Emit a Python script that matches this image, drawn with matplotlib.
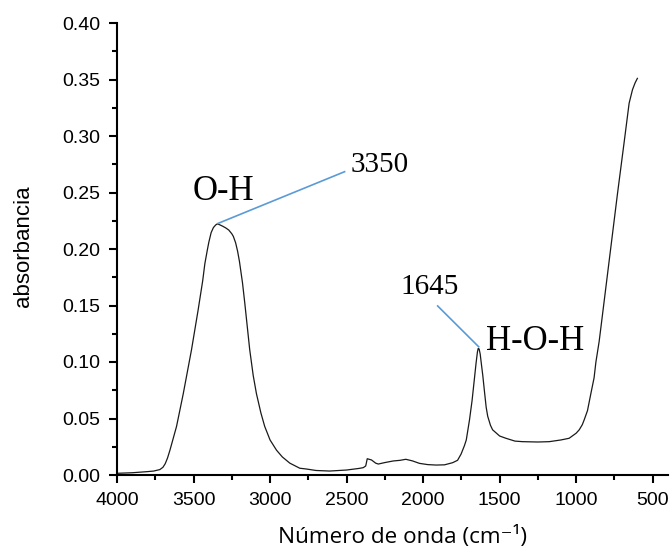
import matplotlib
matplotlib.use("Agg")
import matplotlib.pyplot as plt
from matplotlib.ticker import MultipleLocator, FormatStrFormatter

# ---- data ----
wavenumber = [4000, 3900, 3800, 3760, 3720, 3700, 3685, 3670, 3654, 3611,
              3567, 3513, 3470, 3440, 3426, 3410, 3400, 3385, 3370, 3355,
              3345, 3330, 3310, 3290, 3270, 3250, 3240, 3225, 3212, 3200,
              3180, 3165, 3133, 3110, 3089, 3060, 3035, 3000, 2958, 2920,
              2871, 2806, 2763, 2700, 2611, 2500, 2420, 2391, 2375, 2365,
              2337, 2310, 2293, 2250, 2196, 2150, 2113, 2070, 2024, 1970,
              1915, 1860, 1807, 1775, 1752, 1730, 1718, 1697, 1680, 1665,
              1654, 1645, 1640, 1634, 1627, 1620, 1610, 1600, 1588, 1578,
              1560, 1546, 1500, 1459, 1400, 1350, 1250, 1176, 1100, 1046,
              1000, 980, 960, 947, 926, 904, 883, 871, 850, 838,
              784, 730, 687, 654, 632, 615, 600]
absorbance = [0.0015, 0.002, 0.003, 0.0035, 0.0048, 0.0068, 0.010, 0.015, 0.022, 0.043,
              0.072, 0.111, 0.146, 0.172, 0.187, 0.199, 0.206, 0.2145, 0.219, 0.2213,
              0.2222, 0.2215, 0.2202, 0.2187, 0.2168, 0.2135, 0.2112, 0.2055, 0.198, 0.189,
              0.170, 0.152, 0.111, 0.088, 0.072, 0.055, 0.043, 0.031, 0.022, 0.016,
              0.0105, 0.006, 0.0053, 0.004, 0.0035, 0.0044, 0.0058, 0.0065, 0.008, 0.0144,
              0.0133, 0.0105, 0.0097, 0.011, 0.0124, 0.013, 0.0139, 0.0125, 0.0103, 0.0092,
              0.0088, 0.009, 0.0109, 0.013, 0.0185, 0.026, 0.031, 0.0487, 0.066, 0.085,
              0.099, 0.109, 0.112, 0.1115, 0.107, 0.099, 0.088, 0.075, 0.060, 0.052,
              0.044, 0.040, 0.0345, 0.0325, 0.030, 0.0295, 0.0292, 0.0295, 0.031, 0.0325,
              0.037, 0.040, 0.0445, 0.049, 0.057, 0.072, 0.086, 0.100, 0.118, 0.131,
              0.190, 0.249, 0.294, 0.329, 0.341, 0.347, 0.351]

x_ticks = [4000, 3500, 3000, 2500, 2000, 1500, 1000, 500]
y_ticks = [0.00, 0.05, 0.10, 0.15, 0.20, 0.25, 0.30, 0.35, 0.40]

peak_positions = [3339, 1637]
peak_heights = [0.2227, 0.1135]
peak_numbers = ["3350", "1645"]
peak_groups = ["O-H", "H-O-H"]

# ---- figure ----
fig = plt.figure(figsize=(6.71, 5.51), dpi=100)
ax = fig.add_axes([117/671, 76/551, (668-117)/671, (475-23)/551])

ax.plot(wavenumber, absorbance, color="#1a1a1a", lw=0.9)

ax.set_xlim(4000, 400)
ax.set_ylim(0, 0.40)
ax.set_xticks(x_ticks)
ax.set_yticks(y_ticks)
ax.xaxis.set_minor_locator(MultipleLocator(250))
ax.yaxis.set_minor_locator(MultipleLocator(0.025))
ax.yaxis.set_major_formatter(FormatStrFormatter("%.2f"))

for s in ["top", "right"]:
    ax.spines[s].set_visible(False)
for s in ["left", "bottom"]:
    ax.spines[s].set_linewidth(1.5)
    ax.spines[s].set_color("black")

ax.tick_params(which="major", direction="out", length=6, width=1.5, pad=6)
ax.tick_params(which="minor", direction="out", length=3.5, width=1.5)
for lbl in ax.get_xticklabels() + ax.get_yticklabels():
    lbl.set_family("Liberation Sans")
    lbl.set_fontsize(14)

ax.set_ylabel("absorbancia", family="Liberation Sans", fontsize=16)
ax.yaxis.set_label_coords(-(117 - 24) / 551, (475 - 246) / 452)
ax.set_xlabel("Número de onda (cm⁻¹)", family=["Open Sans", "DejaVu Sans"],
              fontsize=16.2)
ax.xaxis.set_label_coords((403 - 117) / 551, -(537 - 475) / 452)
ax.xaxis.label.set_va("center")
ax.yaxis.label.set_va("center")

# annotation lines
line_color = "#5b9bd5"
ax.plot([peak_positions[0], 2513], [peak_heights[0], 0.2684], color=line_color, lw=1.2)
ax.plot([1905, peak_positions[1]], [0.1496, peak_heights[1]], color=line_color, lw=1.2)

serif = "Liberation Serif"
ax.text(2475, 0.274, peak_numbers[0], family=serif, fontsize=21, ha="left", va="center")
ax.text(3302, 0.2513, peak_groups[0], family=serif, fontsize=25, ha="center", va="center")
ax.text(1959, 0.1666, peak_numbers[1], family=serif, fontsize=21, ha="center", va="center")
ax.text(1267, 0.1177, peak_groups[1], family=serif, fontsize=25, ha="center", va="center")

fig.savefig("out.png", dpi=100)
